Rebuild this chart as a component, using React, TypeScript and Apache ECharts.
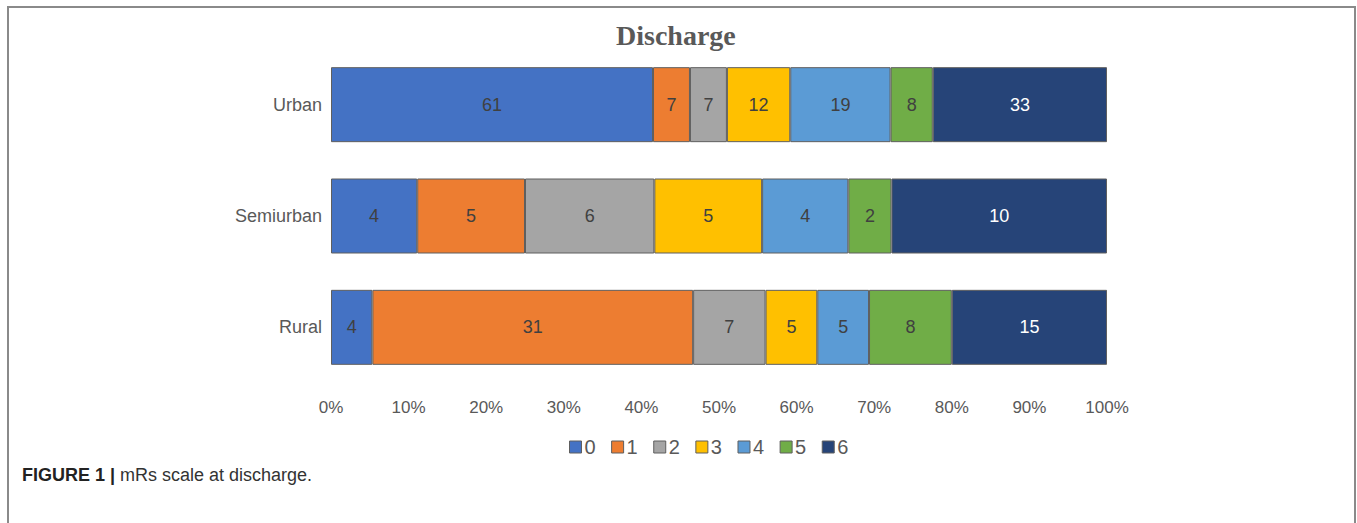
import React, { useEffect, useRef } from "react";
import * as echarts from "echarts";

// mRs score groups and the three settings
const scores = ["0", "1", "2", "3", "4", "5", "6"];
const areas = ["Urban", "Semiurban", "Rural"];

// patient counts per mRs score, one list per area
const urban = [61, 7, 7, 12, 19, 8, 33];
const semiurban = [4, 5, 6, 5, 4, 2, 10];
const rural = [4, 31, 7, 5, 5, 8, 15];

const tickLabels = ["0%", "10%", "20%", "30%", "40%", "50%", "60%", "70%", "80%", "90%", "100%"];

const palette = ["#4472C4", "#ED7D31", "#A5A5A5", "#FFC000", "#5B9BD5", "#70AD47", "#264478"];

const FONT = "'Liberation Sans', Arial, Helvetica, sans-serif";

export default function App() {
  const ref = useRef<HTMLDivElement>(null);

  useEffect(() => {
    if (!ref.current) return;
    const chart = echarts.init(ref.current, null, { renderer: "svg" });

    const counts = [urban, semiurban, rural];
    const totals = counts.map((row) => row.reduce((a, b) => a + b, 0));

    const series = scores.map((s, i) => ({
      name: s,
      type: "bar",
      stack: "total",
      barWidth: 75,
      itemStyle: { color: palette[i], borderColor: "#5f5f5f", borderWidth: 1 },
      label: {
        show: true,
        position: "inside",
        fontFamily: FONT,
        fontSize: 18,
        color: i === 6 ? "#ffffff" : "#404040",
        formatter: (p: any) => String(p.data.count),
      },
      data: counts.map((row, k) => ({
        value: (row[i] / totals[k]) * 100,
        count: row[i],
      })),
    }));

    chart.setOption({
      animation: false,
      backgroundColor: "#ffffff",
      title: {
        text: "Discharge",
        left: 616,
        top: 21,
        padding: 0,
        textStyle: {
          fontFamily: "'Liberation Serif', 'Times New Roman', serif",
          fontWeight: "bold",
          fontSize: 28,
          color: "#595959",
        },
      },
      legend: {
        data: scores,
        left: 569,
        top: 437,
        padding: 0,
        icon: "rect",
        itemWidth: 12,
        itemHeight: 12,
        itemGap: 15.5,
        itemStyle: { borderColor: "#5f5f5f", borderWidth: 1 },
        textStyle: { fontFamily: FONT, fontSize: 20, color: "#595959", padding: [0, 0, 0, -2] },
      },
      grid: { left: 331, right: 250, top: 49, bottom: 140, containLabel: false },
      xAxis: {
        type: "value",
        min: 0,
        max: 100,
        interval: 10,
        axisLine: { show: false },
        axisTick: { show: false },
        splitLine: { show: false },
        axisLabel: {
          fontFamily: FONT,
          fontSize: 17,
          color: "#595959",
          margin: 16,
          formatter: (v: number) => tickLabels[Math.round(v / 10)],
        },
      },
      yAxis: {
        type: "category",
        data: areas,
        inverse: true,
        axisLine: { show: false },
        axisTick: { show: false },
        axisLabel: { fontFamily: FONT, fontSize: 18, color: "#595959", margin: 9 },
      },
      graphic: [
        {
          type: "rect",
          shape: { x: 8, y: 7, width: 1347, height: 700 },
          style: { fill: "none", stroke: "#8a8a8a", lineWidth: 2 },
          silent: true,
        },
        {
          type: "text",
          x: 22,
          y: 475,
          style: {
            text: "{b|FIGURE 1 |} mRs scale at discharge.",
            fontFamily: FONT,
            fontSize: 18,
            fill: "#333333",
            verticalAlign: "middle",
            rich: {
              b: { fontFamily: FONT, fontSize: 18, fontWeight: "bold", fill: "#222222" },
            },
          },
        },
      ],
      series,
    });

    return () => chart.dispose();
  }, []);

  return (
    <div
      ref={ref}
      style={{ position: "absolute", left: 0, top: 0, width: 1357, height: 523 }}
    />
  );
}
